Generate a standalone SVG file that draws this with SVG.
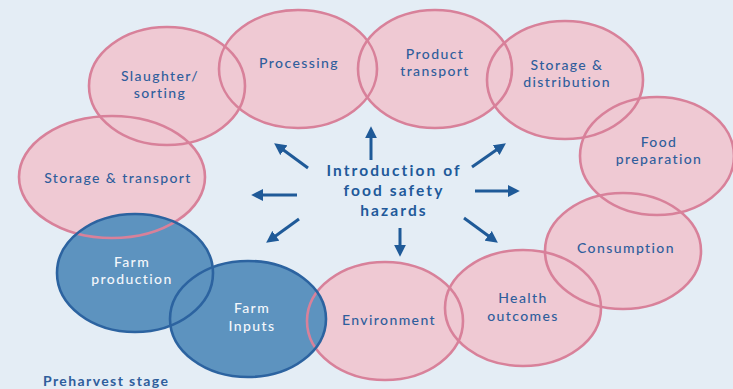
<svg xmlns="http://www.w3.org/2000/svg" width="733" height="389" viewBox="0 0 733 389">
<defs>
<style>
.pf{fill:#efc9d3;stroke:none}
.bf{fill:#5d93bf;stroke:none}
.ps{fill:none;stroke:#d8819a;stroke-width:2.6}
.bs{fill:none;stroke:#2c63a0;stroke-width:2.6}
.t{font-family:Lato,"Open Sans",sans-serif;font-size:14px;font-weight:500;letter-spacing:1.4px;fill:#2f5e9c;text-anchor:middle}
.w{fill:#f4f7fb}
.c{font-family:Lato,"Open Sans",sans-serif;font-size:15.5px;font-weight:bold;letter-spacing:2.1px;fill:#21599a;text-anchor:middle}
.a{stroke:#1f5a98;stroke-width:3;fill:none;marker-end:url(#ah)}
</style>
<marker id="ah" viewBox="0 0 10 10" refX="6" refY="5" markerWidth="4" markerHeight="4" orient="auto" markerUnits="strokeWidth">
<path d="M0,0 L10,5 L0,10 z" fill="#1f5a98"/>
</marker>
</defs>
<rect width="733" height="389" fill="#e4edf5"/>
<g id="fills">
<ellipse class="pf" cx="112" cy="177" rx="93" ry="61"/>
<ellipse class="pf" cx="167" cy="86" rx="78" ry="59"/>
<ellipse class="pf" cx="298" cy="69" rx="79" ry="59"/>
<ellipse class="pf" cx="435" cy="69" rx="77" ry="59"/>
<ellipse class="pf" cx="565" cy="80" rx="78" ry="59"/>
<ellipse class="pf" cx="657" cy="156" rx="77" ry="59"/>
<ellipse class="pf" cx="623" cy="251" rx="78" ry="58"/>
<ellipse class="pf" cx="523" cy="308" rx="78" ry="58"/>
<ellipse class="pf" cx="385" cy="321" rx="78" ry="59"/>
<ellipse class="bf" cx="135" cy="273" rx="78" ry="59"/>
<ellipse class="bf" cx="248" cy="319" rx="78" ry="58"/>
</g>
<g id="storage-transport"><ellipse class="ps" cx="112" cy="177" rx="93" ry="61"/><text class="t" x="118" y="183">Storage &amp; transport</text></g>
<g id="slaughter"><ellipse class="ps" cx="167" cy="86" rx="78" ry="59"/><text class="t" x="160" y="81">Slaughter/</text><text class="t" x="160" y="98">sorting</text></g>
<g id="processing"><ellipse class="ps" cx="298" cy="69" rx="79" ry="59"/><text class="t" x="299" y="68">Processing</text></g>
<g id="product-transport"><ellipse class="ps" cx="435" cy="69" rx="77" ry="59"/><text class="t" x="435" y="59">Product</text><text class="t" x="435" y="76">transport</text></g>
<g id="storage-distribution"><ellipse class="ps" cx="565" cy="80" rx="78" ry="59"/><text class="t" x="567" y="70">Storage &amp;</text><text class="t" x="567" y="87">distribution</text></g>
<g id="food-preparation"><ellipse class="ps" cx="657" cy="156" rx="77" ry="59"/><text class="t" x="659" y="147">Food</text><text class="t" x="659" y="164">preparation</text></g>
<g id="consumption"><ellipse class="ps" cx="623" cy="251" rx="78" ry="58"/><text class="t" x="626" y="253">Consumption</text></g>
<g id="health-outcomes"><ellipse class="ps" cx="523" cy="308" rx="78" ry="58"/><text class="t" x="523" y="303">Health</text><text class="t" x="523" y="321">outcomes</text></g>
<g id="environment"><ellipse class="ps" cx="385" cy="321" rx="78" ry="59"/><text class="t" x="389" y="325">Environment</text></g>
<g id="farm-production"><ellipse class="bs" cx="135" cy="273" rx="78" ry="59"/><text class="t w" x="132" y="267">Farm</text><text class="t w" x="132" y="284">production</text></g>
<g id="farm-inputs"><ellipse class="bs" cx="248" cy="319" rx="78" ry="58"/><text class="t w" x="252" y="313">Farm</text><text class="t w" x="252" y="331">Inputs</text></g>
<g id="hazards"><text class="c" x="394" y="176">Introduction of</text><text class="c" x="394" y="196">food safety</text><text class="c" x="394" y="216">hazards</text></g>
<g id="connectors">
<line class="a" x1="371" y1="160" x2="371" y2="131"/>
<line class="a" x1="308" y1="168" x2="278" y2="146"/>
<line class="a" x1="297" y1="195" x2="256" y2="195"/>
<line class="a" x1="299" y1="219" x2="270" y2="240"/>
<line class="a" x1="400" y1="228" x2="400" y2="252"/>
<line class="a" x1="464" y1="218" x2="494" y2="240"/>
<line class="a" x1="475" y1="191" x2="515" y2="191"/>
<line class="a" x1="472" y1="167" x2="502" y2="146"/>
</g>
<text x="43" y="386" style="font-family:Lato,'Open Sans',sans-serif;font-size:14px;font-weight:bold;letter-spacing:1.4px;fill:#2f5e9c">Preharvest stage</text>
</svg>
